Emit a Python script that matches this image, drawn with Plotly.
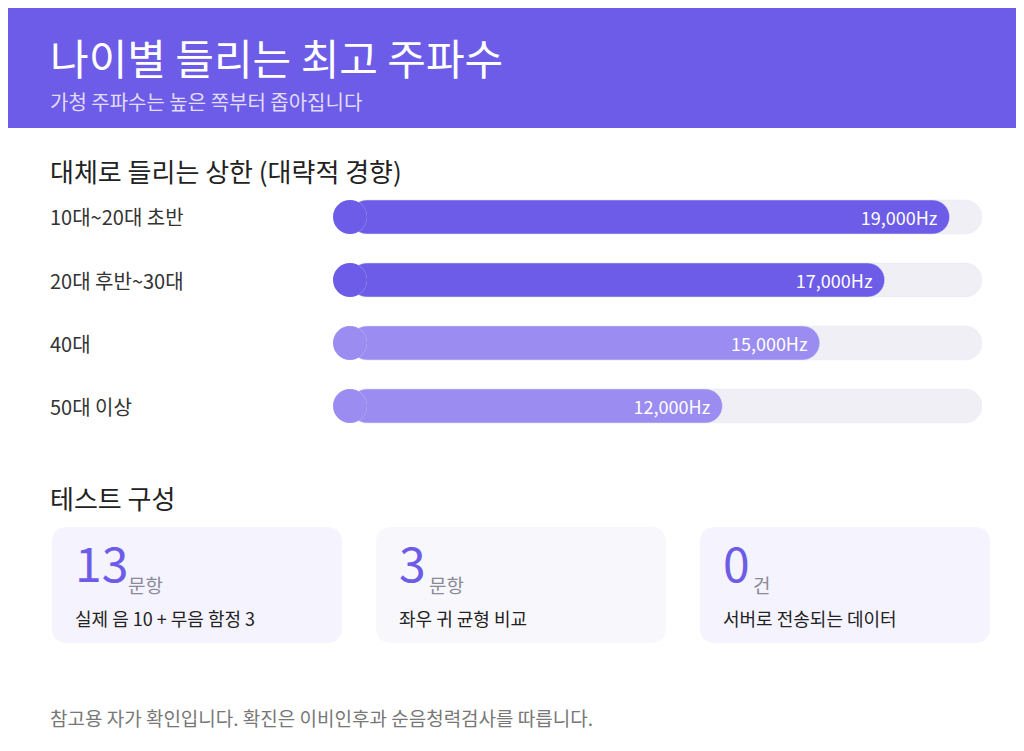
import plotly.graph_objects as go

W, H = 1024, 751
O = 8  # page body offset
FONT = "Noto Sans CJK KR"
PURPLE = "#6c5ce7"
LIGHT = "#9b8cf2"
TRACK = "#f0eff6"

ages = ["10대~20대 초반", "20대 후반~30대", "40대", "50대 이상"]
freqs = [19000, 17000, 15000, 12000]
bar_colors = [PURPLE, PURPLE, LIGHT, LIGHT]
max_freq = 20000

card_nums = ["13", "3", "0"]
card_units = ["문항", "문항", "건"]
card_descs = ["실제 음 10 + 무음 함정 3", "좌우 귀 균형 비교", "서버로 전송되는 데이터"]
card_bgs = ["#f4f3fe", "#f8f8fc", "#f4f3fe"]

def px(x): return (x - O) / W
def py(y): return 1 - (y - O) / H

track_px = 982 - 333
B = 17 / track_px * max_freq  # cap radius in data units

fig = go.Figure()
fig.add_bar(y=ages, x=[max_freq - B] * len(ages), base=B, orientation="h",
            marker=dict(color=TRACK, cornerradius=17), width=0.54, hoverinfo="skip", showlegend=False)
fig.add_scatter(y=ages, x=[B] * len(ages), mode="markers", marker=dict(size=34, color=TRACK, line_width=0),
                hoverinfo="skip", showlegend=False)
fig.add_scatter(y=ages, x=[B] * len(ages), mode="markers", marker=dict(size=34, color=bar_colors, line_width=0),
                hoverinfo="skip", showlegend=False)
fig.add_bar(y=ages, x=[v - B for v in freqs], base=B, orientation="h",
            marker=dict(color=bar_colors, cornerradius=17), width=0.54,
            text=[f"{v:,}Hz" for v in freqs], textposition="inside", insidetextanchor="end",
            textfont=dict(color="white", size=18, family=FONT), showlegend=False)

fig.update_layout(
    width=W, height=H, margin=dict(l=0, r=0, t=0, b=0), paper_bgcolor="white", plot_bgcolor="white",
    barmode="overlay", font=dict(family=FONT), uniformtext=dict(minsize=8, mode="show"),
    xaxis=dict(domain=[px(333), px(982)], range=[0, max_freq], visible=False, fixedrange=True),
    yaxis=dict(domain=[py(437.5), py(185.5)], range=[3.5, -0.5], visible=False, fixedrange=True),
)

shapes = [dict(type="rect", xref="paper", yref="paper", x0=-0.05, x1=1.05, y0=py(128), y1=1.05,
               fillcolor=PURPLE, line_width=0, layer="below")]

def rrect(x0, y0, x1, y1, r):
    X = px; Y = py
    return (f"M{X(x0+r)},{Y(y0)} L{X(x1-r)},{Y(y0)} Q{X(x1)},{Y(y0)} {X(x1)},{Y(y0+r)} "
            f"L{X(x1)},{Y(y1-r)} Q{X(x1)},{Y(y1)} {X(x1-r)},{Y(y1)} L{X(x0+r)},{Y(y1)} "
            f"Q{X(x0)},{Y(y1)} {X(x0)},{Y(y1-r)} L{X(x0)},{Y(y0+r)} Q{X(x0)},{Y(y0)} {X(x0+r)},{Y(y0)} Z")

ann = []
def text(x, y, s, size, color, anchor="left", yanchor="middle"):
    ann.append(dict(xref="paper", yref="paper", x=px(x), y=py(y), text=s, showarrow=False,
                    xanchor=anchor, yanchor=yanchor, font=dict(family=FONT, size=size, color=color)))

text(48, 57, "나이별 들리는 최고 주파수", 42, "white")
text(48, 101, "가청 주파수는 높은 쪽부터 좁아집니다", 20, "#e2ddfc")
text(48, 171, "대체로 들리는 상한 (대략적 경향)", 26, "#222222")
rows_y = [217, 280, 343, 406]
for a, yy in zip(ages, rows_y):
    text(48, yy, a, 20, "#333333")
text(48, 497, "테스트 구성", 26, "#222222")

card_x = [52, 376, 700]
for i, cx in enumerate(card_x):
    shapes.append(dict(type="path", xref="paper", yref="paper", path=rrect(cx, 527, cx + 290, 643, 16),
                       fillcolor=card_bgs[i], line_width=0, layer="below"))
    num = card_nums[i]
    nw = 23 * len(num)
    text(cx + 21, 598, num, 48, PURPLE, yanchor="bottom")
    text(cx + 22 + nw + 6, 600, card_units[i], 19, "#8a8a99", yanchor="bottom")
    text(cx + 21, 618, card_descs[i], 18, "#222222")

text(48, 717, "참고용 자가 확인입니다. 확진은 이비인후과 순음청력검사를 따릅니다.", 19, "#777777")

fig.update_layout(shapes=shapes, annotations=ann)
fig.write_html("out.html")
